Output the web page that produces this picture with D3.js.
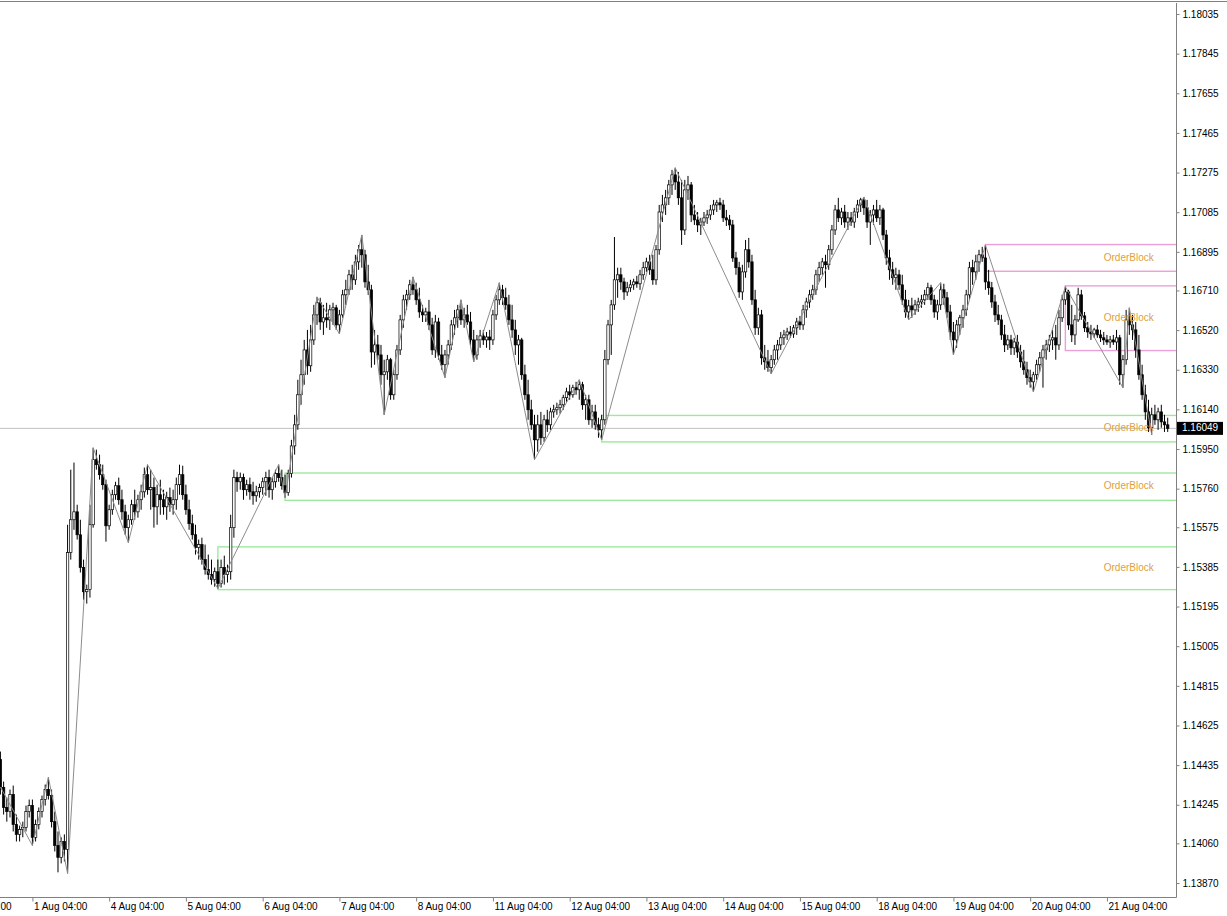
<!DOCTYPE html>
<html><head><meta charset="utf-8">
<script src="https://cdnjs.cloudflare.com/ajax/libs/d3/7.8.5/d3.min.js"></script>
<style>body{margin:0;background:#fff}svg{display:block}</style>
</head><body>
<svg id="c" width="1227" height="916"></svg>
<script>
// ---- data (EURUSD H1, 31 Jul 18:00 .. 21 Aug 23:00) ----
const closes=[1.14328,1.14232,1.14212,1.14294,1.14150,1.14103,1.14127,1.14136,1.14212,1.14241,1.14089,1.14150,1.14212,1.14270,1.14318,1.14289,1.14164,1.14050,1.13993,1.14069,1.14031,1.15454,1.15611,1.15649,1.15539,1.15382,1.15266,1.15276,1.15587,1.15899,
1.15875,1.15827,1.15779,1.15582,1.15659,1.15731,1.15774,1.15707,1.15649,1.15573,1.15611,1.15683,1.15649,1.15707,1.15745,1.15827,1.15755,1.15765,1.15673,1.15731,1.15707,1.15673,1.15717,1.15683,1.15707,1.15779,1.15827,1.15731,1.15659,1.15592,
1.15539,1.15478,1.15492,1.15420,1.15372,1.15348,1.15324,1.15362,1.15305,1.15382,1.15348,1.15362,1.15573,1.15813,1.15793,1.15813,1.15755,1.15779,1.15745,1.15726,1.15745,1.15765,1.15793,1.15813,1.15755,1.15793,1.15832,1.15813,1.15774,1.15741,
1.15832,1.15965,1.16066,1.16210,1.16306,1.16425,1.16349,1.16473,1.16593,1.16651,1.16559,1.16579,1.16569,1.16617,1.16627,1.16545,1.16593,1.16689,1.16713,1.16785,1.16761,1.16847,1.16905,1.16881,1.16751,1.16713,1.16415,1.16449,1.16401,1.16306,
1.16320,1.16378,1.16210,1.16306,1.16425,1.16569,1.16665,1.16689,1.16737,1.16713,1.16665,1.16607,1.16593,1.16607,1.16545,1.16425,1.16559,1.16401,1.16354,1.16401,1.16449,1.16545,1.16579,1.16617,1.16569,1.16593,1.16559,1.16473,1.16401,1.16473,
1.16492,1.16473,1.16487,1.16473,1.16593,1.16665,1.16713,1.16675,1.16641,1.16569,1.16521,1.16449,1.16473,1.16306,1.16210,1.16138,1.16066,1.15994,1.16066,1.16004,1.16090,1.16066,1.16128,1.16138,1.16148,1.16162,1.16196,1.16224,1.16210,1.16244,
1.16234,1.16258,1.16162,1.16186,1.16090,1.16128,1.16066,1.16042,1.16090,1.16378,1.16545,1.16641,1.16761,1.16785,1.16751,1.16703,1.16723,1.16737,1.16751,1.16742,1.16785,1.16819,1.16847,1.16809,1.16761,1.16905,1.17086,1.17120,1.17154,1.17216,
1.17264,1.17230,1.17154,1.17000,1.17192,1.17216,1.17072,1.17048,1.17024,1.17038,1.17058,1.17072,1.17096,1.17120,1.17130,1.17120,1.17058,1.17048,1.17024,1.16866,1.16819,1.16703,1.16799,1.16905,1.16847,1.16665,1.16531,1.16593,1.16387,1.16368,
1.16340,1.16378,1.16425,1.16449,1.16483,1.16497,1.16511,1.16502,1.16531,1.16559,1.16545,1.16617,1.16655,1.16689,1.16713,1.16785,1.16819,1.16847,1.16833,1.16905,1.17000,1.17096,1.17058,1.17086,1.17038,1.17058,1.17038,1.17086,1.17120,1.17144,
1.17106,1.17038,1.17072,1.17096,1.17058,1.17096,1.16976,1.16866,1.16809,1.16771,1.16785,1.16737,1.16665,1.16607,1.16636,1.16617,1.16641,1.16655,1.16665,1.16689,1.16723,1.16665,1.16607,1.16641,1.16713,1.16675,1.16607,1.16511,1.16473,1.16545,
1.16579,1.16617,1.16689,1.16819,1.16799,1.16847,1.16881,1.16866,1.16751,1.16723,1.16655,1.16593,1.16569,1.16497,1.16449,1.16473,1.16435,1.16463,1.16415,1.16368,1.16330,1.16292,1.16272,1.16306,1.16354,1.16387,1.16425,1.16449,1.16473,1.16483,
1.16449,1.16579,1.16665,1.16703,1.16545,1.16497,1.16569,1.16689,1.16588,1.16531,1.16511,1.16502,1.16521,1.16497,1.16483,1.16473,1.16463,1.16473,1.16463,1.16483,1.16306,1.16378,1.16569,1.16545,1.16521,1.16425,1.16306,1.16210,1.16128,1.16052,
1.16114,1.16090,1.16128,1.16080,1.16066,1.16049];
const opens=[1.14462,1.14328,1.14232,1.14212,1.14294,1.14150,1.14103,1.14127,1.14136,1.14212,1.14241,1.14089,1.14150,1.14212,1.14270,1.14318,1.14289,1.14164,1.14050,1.13993,1.14069,1.14031,1.15454,1.15611,1.15649,1.15539,1.15382,1.15266,1.15276,1.15587,
1.15899,1.15875,1.15827,1.15779,1.15582,1.15659,1.15731,1.15774,1.15707,1.15649,1.15573,1.15611,1.15683,1.15649,1.15707,1.15745,1.15827,1.15755,1.15765,1.15673,1.15731,1.15707,1.15673,1.15717,1.15683,1.15707,1.15779,1.15827,1.15731,1.15659,
1.15592,1.15539,1.15478,1.15492,1.15420,1.15372,1.15348,1.15324,1.15362,1.15305,1.15382,1.15348,1.15362,1.15573,1.15813,1.15793,1.15813,1.15755,1.15779,1.15745,1.15726,1.15745,1.15765,1.15793,1.15813,1.15755,1.15793,1.15832,1.15813,1.15774,
1.15741,1.15832,1.15965,1.16066,1.16210,1.16306,1.16425,1.16349,1.16473,1.16593,1.16651,1.16559,1.16579,1.16569,1.16617,1.16627,1.16545,1.16593,1.16689,1.16713,1.16785,1.16761,1.16847,1.16905,1.16881,1.16751,1.16713,1.16415,1.16449,1.16401,
1.16306,1.16320,1.16378,1.16210,1.16306,1.16425,1.16569,1.16665,1.16689,1.16737,1.16713,1.16665,1.16607,1.16593,1.16607,1.16545,1.16425,1.16559,1.16401,1.16354,1.16401,1.16449,1.16545,1.16579,1.16617,1.16569,1.16593,1.16559,1.16473,1.16401,
1.16473,1.16492,1.16473,1.16487,1.16473,1.16593,1.16665,1.16713,1.16675,1.16641,1.16569,1.16521,1.16449,1.16473,1.16306,1.16210,1.16138,1.16066,1.15994,1.16066,1.16004,1.16090,1.16066,1.16128,1.16138,1.16148,1.16162,1.16196,1.16224,1.16210,
1.16244,1.16234,1.16258,1.16162,1.16186,1.16090,1.16128,1.16066,1.16042,1.16090,1.16378,1.16545,1.16641,1.16761,1.16785,1.16751,1.16703,1.16723,1.16737,1.16751,1.16742,1.16785,1.16819,1.16847,1.16809,1.16761,1.16905,1.17086,1.17120,1.17154,
1.17216,1.17264,1.17230,1.17154,1.17000,1.17192,1.17216,1.17072,1.17048,1.17024,1.17038,1.17058,1.17072,1.17096,1.17120,1.17130,1.17120,1.17058,1.17048,1.17024,1.16866,1.16819,1.16703,1.16799,1.16905,1.16847,1.16665,1.16531,1.16593,1.16387,
1.16368,1.16340,1.16378,1.16425,1.16449,1.16483,1.16497,1.16511,1.16502,1.16531,1.16559,1.16545,1.16617,1.16655,1.16689,1.16713,1.16785,1.16819,1.16847,1.16833,1.16905,1.17000,1.17096,1.17058,1.17086,1.17038,1.17058,1.17038,1.17086,1.17120,
1.17144,1.17106,1.17038,1.17072,1.17096,1.17058,1.17096,1.16976,1.16866,1.16809,1.16771,1.16785,1.16737,1.16665,1.16607,1.16636,1.16617,1.16641,1.16655,1.16665,1.16689,1.16723,1.16665,1.16607,1.16641,1.16713,1.16675,1.16607,1.16511,1.16473,
1.16545,1.16579,1.16617,1.16689,1.16819,1.16799,1.16847,1.16881,1.16866,1.16751,1.16723,1.16655,1.16593,1.16569,1.16497,1.16449,1.16473,1.16435,1.16463,1.16415,1.16368,1.16330,1.16292,1.16272,1.16306,1.16354,1.16387,1.16425,1.16449,1.16473,
1.16483,1.16449,1.16579,1.16665,1.16703,1.16545,1.16497,1.16569,1.16689,1.16588,1.16531,1.16511,1.16502,1.16521,1.16497,1.16483,1.16473,1.16463,1.16473,1.16463,1.16483,1.16306,1.16378,1.16569,1.16545,1.16521,1.16425,1.16306,1.16210,1.16128,
1.16052,1.16114,1.16090,1.16128,1.16080,1.16066];
const highs=[1.14500,1.14356,1.14280,1.14318,1.14337,1.14198,1.14145,1.14164,1.14241,1.14270,1.14270,1.14174,1.14232,1.14289,1.14342,1.14376,1.14318,1.14212,1.14117,1.14089,1.14103,1.15587,1.15851,1.15885,1.15683,1.15611,1.15420,1.15300,1.15683,1.15956,
1.15947,1.15923,1.15875,1.15803,1.15683,1.15755,1.15793,1.15813,1.15755,1.15683,1.15635,1.15707,1.15755,1.15731,1.15779,1.15861,1.15875,1.15851,1.15813,1.15779,1.15803,1.15755,1.15745,1.15765,1.15755,1.15813,1.15875,1.15870,1.15779,1.15707,
1.15635,1.15587,1.15516,1.15525,1.15492,1.15444,1.15420,1.15382,1.15420,1.15420,1.15439,1.15396,1.15635,1.15851,1.15841,1.15837,1.15832,1.15803,1.15813,1.15793,1.15774,1.15784,1.15813,1.15841,1.15851,1.15813,1.15851,1.15875,1.15851,1.15827,
1.15851,1.15994,1.16114,1.16282,1.16378,1.16473,1.16521,1.16545,1.16641,1.16679,1.16675,1.16641,1.16651,1.16641,1.16651,1.16641,1.16617,1.16713,1.16761,1.16809,1.16833,1.16881,1.16928,1.16976,1.16905,1.16833,1.16737,1.16521,1.16497,1.16449,
1.16378,1.16401,1.16387,1.16330,1.16449,1.16593,1.16689,1.16713,1.16761,1.16775,1.16747,1.16723,1.16641,1.16627,1.16665,1.16579,1.16593,1.16579,1.16449,1.16425,1.16473,1.16569,1.16617,1.16641,1.16665,1.16627,1.16641,1.16607,1.16521,1.16497,
1.16521,1.16521,1.16511,1.16521,1.16617,1.16689,1.16747,1.16737,1.16723,1.16689,1.16641,1.16569,1.16497,1.16483,1.16354,1.16282,1.16186,1.16114,1.16114,1.16128,1.16114,1.16138,1.16148,1.16162,1.16172,1.16186,1.16210,1.16244,1.16258,1.16258,
1.16272,1.16282,1.16272,1.16210,1.16210,1.16162,1.16162,1.16100,1.16114,1.16425,1.16569,1.16665,1.16966,1.16819,1.16819,1.16771,1.16751,1.16761,1.16766,1.16780,1.16809,1.16847,1.16867,1.16881,1.16881,1.16928,1.17120,1.17168,1.17192,1.17240,
1.17288,1.17298,1.17278,1.17240,1.17240,1.17259,1.17230,1.17120,1.17086,1.17058,1.17086,1.17096,1.17120,1.17144,1.17144,1.17154,1.17144,1.17096,1.17072,1.17048,1.16895,1.16847,1.16833,1.16952,1.16962,1.16881,1.16713,1.16627,1.16617,1.16449,
1.16425,1.16401,1.16449,1.16473,1.16511,1.16521,1.16531,1.16540,1.16545,1.16579,1.16588,1.16641,1.16675,1.16713,1.16737,1.16809,1.16847,1.16866,1.16881,1.16928,1.17024,1.17120,1.17154,1.17106,1.17120,1.17086,1.17086,1.17106,1.17144,1.17154,
1.17158,1.17144,1.17096,1.17120,1.17144,1.17120,1.17106,1.17000,1.16905,1.16847,1.16819,1.16809,1.16785,1.16713,1.16665,1.16675,1.16665,1.16675,1.16689,1.16713,1.16747,1.16737,1.16689,1.16665,1.16747,1.16742,1.16703,1.16641,1.16559,1.16569,
1.16593,1.16641,1.16713,1.16847,1.16857,1.16881,1.16905,1.16919,1.16928,1.16809,1.16751,1.16689,1.16641,1.16593,1.16545,1.16497,1.16497,1.16483,1.16497,1.16449,1.16425,1.16368,1.16330,1.16320,1.16378,1.16415,1.16449,1.16473,1.16497,1.16521,
1.16545,1.16617,1.16689,1.16728,1.16713,1.16641,1.16593,1.16723,1.16713,1.16607,1.16559,1.16545,1.16531,1.16545,1.16521,1.16511,1.16497,1.16492,1.16497,1.16521,1.16497,1.16401,1.16617,1.16627,1.16593,1.16559,1.16497,1.16354,1.16258,1.16186,
1.16148,1.16162,1.16148,1.16162,1.16114,1.16100];
const lows=[1.14294,1.14198,1.14164,1.14184,1.14117,1.14069,1.14069,1.14089,1.14117,1.14184,1.14050,1.14069,1.14127,1.14184,1.14241,1.14270,1.14136,1.14021,1.13921,1.13964,1.13973,1.13916,1.15420,1.15563,1.15516,1.15358,1.15228,1.15209,1.15238,1.15573,
1.15851,1.15803,1.15755,1.15506,1.15563,1.15635,1.15707,1.15683,1.15611,1.15539,1.15502,1.15587,1.15611,1.15621,1.15659,1.15717,1.15731,1.15659,1.15573,1.15587,1.15635,1.15635,1.15611,1.15649,1.15635,1.15659,1.15731,1.15707,1.15635,1.15563,
1.15516,1.15444,1.15420,1.15396,1.15348,1.15324,1.15300,1.15290,1.15281,1.15286,1.15300,1.15310,1.15324,1.15525,1.15745,1.15755,1.15707,1.15726,1.15707,1.15683,1.15697,1.15717,1.15731,1.15726,1.15717,1.15707,1.15765,1.15793,1.15755,1.15717,
1.15726,1.15813,1.15923,1.16042,1.16162,1.16258,1.16306,1.16320,1.16449,1.16545,1.16521,1.16497,1.16531,1.16521,1.16545,1.16521,1.16502,1.16579,1.16641,1.16689,1.16713,1.16737,1.16809,1.16819,1.16723,1.16689,1.16340,1.16354,1.16378,1.16258,
1.16114,1.16282,1.16186,1.16186,1.16282,1.16401,1.16531,1.16617,1.16665,1.16689,1.16641,1.16579,1.16559,1.16559,1.16521,1.16401,1.16387,1.16378,1.16330,1.16292,1.16354,1.16425,1.16497,1.16531,1.16545,1.16531,1.16545,1.16449,1.16368,1.16378,
1.16435,1.16449,1.16435,1.16425,1.16449,1.16569,1.16641,1.16641,1.16617,1.16545,1.16483,1.16401,1.16354,1.16282,1.16186,1.16090,1.16042,1.15899,1.15937,1.15970,1.15984,1.16032,1.16042,1.16100,1.16114,1.16119,1.16138,1.16176,1.16186,1.16196,
1.16210,1.16186,1.16138,1.16090,1.16066,1.16052,1.16042,1.16004,1.15994,1.16066,1.16354,1.16401,1.16617,1.16675,1.16713,1.16665,1.16684,1.16703,1.16713,1.16723,1.16713,1.16761,1.16799,1.16785,1.16737,1.16737,1.16881,1.17038,1.17072,1.17120,
1.17168,1.17192,1.17120,1.16928,1.16976,1.17144,1.17038,1.17024,1.16990,1.16976,1.17019,1.17029,1.17048,1.17072,1.17086,1.17096,1.17038,1.17019,1.17000,1.16847,1.16785,1.16675,1.16665,1.16771,1.16819,1.16641,1.16497,1.16497,1.16354,1.16330,
1.16320,1.16311,1.16354,1.16378,1.16425,1.16449,1.16473,1.16483,1.16483,1.16497,1.16521,1.16521,1.16579,1.16627,1.16665,1.16689,1.16751,1.16785,1.16723,1.16809,1.16881,1.16976,1.17038,1.17024,1.17010,1.17000,1.17019,1.17010,1.17058,1.17086,
1.17072,1.17010,1.16928,1.17024,1.17038,1.17024,1.16952,1.16833,1.16761,1.16737,1.16713,1.16713,1.16641,1.16579,1.16569,1.16579,1.16593,1.16607,1.16627,1.16641,1.16665,1.16641,1.16579,1.16569,1.16617,1.16641,1.16579,1.16473,1.16401,1.16435,
1.16497,1.16531,1.16588,1.16665,1.16737,1.16761,1.16799,1.16847,1.16713,1.16689,1.16627,1.16559,1.16545,1.16473,1.16415,1.16425,1.16401,1.16401,1.16387,1.16340,1.16306,1.16258,1.16244,1.16224,1.16282,1.16320,1.16244,1.16378,1.16415,1.16425,
1.16378,1.16425,1.16559,1.16641,1.16521,1.16463,1.16449,1.16559,1.16569,1.16511,1.16483,1.16473,1.16483,1.16483,1.16463,1.16449,1.16449,1.16435,1.16449,1.16425,1.16258,1.16244,1.16354,1.16497,1.16473,1.16387,1.16282,1.16186,1.16090,1.16032,
1.16018,1.16066,1.16042,1.16052,1.16032,1.16032];

const yTickValues=[1.18035,1.17845,1.17655,1.17465,1.17275,1.17085,1.16895,1.16710,1.16520,1.16330,1.16140,1.15950,1.15760,1.15575,1.15385,1.15195,1.15005,1.14815,1.14625,1.14435,1.14245,1.14060,1.13870];
const xTickBars=[-14,10,34,58,82,106,130,154,178,202,226,250,274,298,322,346];
const xTickLabels=["31 Jul 04:00","1 Aug 04:00","4 Aug 04:00","5 Aug 04:00","6 Aug 04:00","7 Aug 04:00","8 Aug 04:00","11 Aug 04:00","12 Aug 04:00","13 Aug 04:00","14 Aug 04:00","15 Aug 04:00","18 Aug 04:00","19 Aug 04:00","20 Aug 04:00","21 Aug 04:00"];

const zigzagBars=[0,10,15,21,29,40,46,68,87,89,99,106,113,120,129,139,144,148,156,167,181,188,211,241,270,284,294,298,308,323,333,351,353,360];
const zigzagPrices=[1.14330,1.14050,1.14376,1.13916,1.15956,1.15502,1.15875,1.15281,1.15875,1.15717,1.16679,1.16502,1.16976,1.16114,1.16775,1.16292,1.16665,1.16368,1.16747,1.15899,1.16282,1.15994,1.17298,1.16311,1.17158,1.16569,1.16747,1.16401,1.16928,1.16224,1.16728,1.16244,1.16627,1.16018];

const obStartBar=[308,333,188,89,68];
const obTop=[1.16930,1.16732,1.16111,1.15835,1.15481];
const obBottom=[1.16802,1.16422,1.15984,1.15704,1.15276];
const obKind=["bear","bear","bull","bull","bull"];
const obLabel="OrderBlock";
const obLabelBar=345;
const currentPrice=1.16049;

// ---- layout ----
const W=1227,H=916, plotR=1176, plotT=3, plotB=897;
const svg=d3.select("#c");
const x=d3.scaleLinear().domain([0,365]).range([0.42,1167.7]);
const y=d3.scaleLinear().domain([1.13870,1.18035]).range([883,14]);
const bodyW=2.4;

svg.append("defs").append("clipPath").attr("id","plot").append("rect")
  .attr("x",0).attr("y",plotT).attr("width",plotR).attr("height",plotB-plotT);

const g=svg.append("g").attr("clip-path","url(#plot)");

// current price line
g.append("line").attr("x1",0).attr("x2",plotR).attr("y1",y(currentPrice)).attr("y2",y(currentPrice))
  .attr("stroke","#c0c0c0").attr("stroke-width",1);

// order blocks
const obColor={bear:"#eaa0d6",bull:"#9fe89f"};
obStartBar.forEach((b,i)=>{
  const x0=x(b), y0=y(obTop[i]), y1=y(obBottom[i]);
  g.append("rect").attr("x",x0).attr("y",y0).attr("width",plotR+5-x0).attr("height",y1-y0)
   .attr("fill","none").attr("stroke",obColor[obKind[i]]).attr("stroke-width",1.4);
});

// candles
const idx=d3.range(closes.length);
const cg=g.append("g");
cg.selectAll("line.w").data(idx).join("line").attr("class","w")
  .attr("x1",i=>x(i)).attr("x2",i=>x(i)).attr("y1",i=>y(highs[i])).attr("y2",i=>y(lows[i]))
  .attr("stroke","#000").attr("stroke-width",1);
cg.selectAll("rect.b").data(idx).join("rect").attr("class","b")
  .attr("x",i=>x(i)-bodyW/2).attr("width",bodyW)
  .attr("y",i=>Math.min(y(opens[i]),y(closes[i])))
  .attr("height",i=>Math.max(1,Math.abs(y(opens[i])-y(closes[i]))))
  .attr("fill",i=>closes[i]>=opens[i]?"#fff":"#000")
  .attr("stroke","#000").attr("stroke-width",0.7);

// zigzag
g.append("path").datum(zigzagBars.map((b,i)=>[x(b),y(zigzagPrices[i])]))
  .attr("d",d3.line()).attr("fill","none").attr("stroke","#8c8c8c").attr("stroke-width",1);

// order block labels
obStartBar.forEach((b,i)=>{
  g.append("text").attr("x",x(obLabelBar)).attr("y",y((obTop[i]+obBottom[i])/2))
   .attr("dominant-baseline","middle").attr("font-family","'Liberation Sans',Arial,sans-serif")
   .attr("font-size",10).attr("fill","#e0a040").text(obLabel);
});

// frame
svg.append("line").attr("x1",0).attr("x2",W).attr("y1",1.5).attr("y2",1.5).attr("stroke","#808080");
svg.append("line").attr("x1",plotR+0.5).attr("x2",plotR+0.5).attr("y1",plotT).attr("y2",plotB+0.5).attr("stroke","#808080");
svg.append("line").attr("x1",0).attr("x2",plotR+0.5).attr("y1",plotB+0.5).attr("y2",plotB+0.5).attr("stroke","#808080");

// y axis
const ya=svg.append("g").attr("transform",`translate(${plotR+0.5},0)`)
  .call(d3.axisRight(y).tickValues(yTickValues).tickFormat(d3.format(".5f")).tickSize(3).tickPadding(3));
ya.select(".domain").remove();
ya.selectAll("text").attr("font-family","'Liberation Sans',Arial,sans-serif").attr("font-size",10).attr("fill","#000");
ya.selectAll("line").attr("stroke","#808080");

// x axis
const xa=svg.append("g").attr("transform",`translate(0,${plotB+0.5})`)
  .call(d3.axisBottom(x).tickValues(xTickBars).tickFormat((d,i)=>xTickLabels[i]).tickSize(4).tickPadding(1));
xa.select(".domain").remove();
xa.selectAll("text").attr("text-anchor","start").attr("dx",1).attr("font-family","'Liberation Sans',Arial,sans-serif").attr("font-size",10).attr("fill","#000");
xa.selectAll("line").attr("stroke","#808080");

// current price tag
const cp=svg.append("g").attr("transform",`translate(${plotR+1},${y(currentPrice)})`);
cp.append("rect").attr("x",0).attr("y",-6.5).attr("width",46).attr("height",13).attr("fill","#000");
cp.append("text").attr("x",5).attr("y",0).attr("dominant-baseline","middle")
  .attr("font-family","'Liberation Sans',Arial,sans-serif").attr("font-size",10).attr("fill","#fff")
  .text(d3.format(".5f")(currentPrice));
</script>
</body></html>
